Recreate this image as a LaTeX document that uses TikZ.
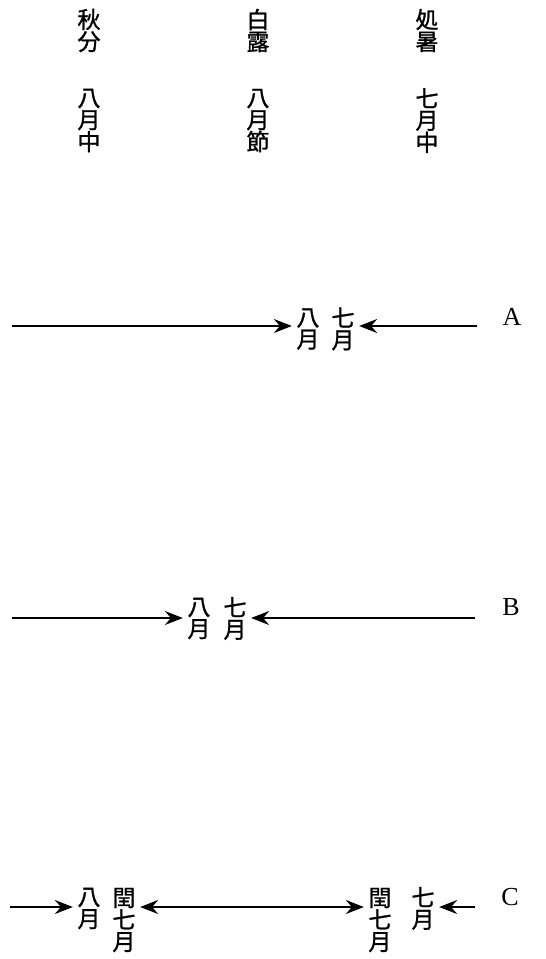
\documentclass[tikz,border=0pt]{standalone}
\usepackage{fontspec}
\setmainfont{Liberation Serif}
\newfontfamily\jpfont[FakeBold=1.2]{Noto Sans CJK JP}
\usetikzlibrary{arrows.meta}
\tikzset{
  tsuki/.style={font=\jpfont\fontsize{23}{22}\selectfont, align=center, inner sep=4pt},
  rowlabel/.style={font=\fontsize{26}{26}\selectfont, anchor=base, inner sep=0pt},
  ya/.tip={Stealth[length=18pt,width=14pt,inset=6pt]},
}
\begin{document}
\begin{tikzpicture}[x=1pt, y=1pt, line width=1.3pt]
    \useasboundingbox (0,0) rectangle (546,-959);
    % sekki headings
    \foreach \x/\n/\a/\b/\c/\d/\e in {89/shubun/秋/分/八/月/中, 258/hakuro/白/露/八/月/節, 427/shosho/処/暑/七/月/中}
        {
            \node[tsuki] (\n) at (\x,-30.5) {\a\\\b};
            \node[tsuki] (\n-m) at (\x,-120.5) {\c\\\d\\\e};
        }
    % A
    \node[tsuki] (a8) at (308,-329) {八\\月};
    \node[tsuki] (a7) at (343,-329) {七\\月};
    \coordinate (aL) at (12,-326);
    \coordinate (aR) at (477,-326);
    \draw[-ya] (aL) -- (aL -| a8.west);
    \draw[-ya] (aR) -- (aR -| a7.east);
    \node[rowlabel] (A) at (512,-325) {A};
    % B
    \node[tsuki] (b8) at (199,-618.5) {八\\月};
    \node[tsuki] (b7) at (235,-618.5) {七\\月};
    \coordinate (bL) at (12,-618);
    \coordinate (bR) at (475,-618);
    \draw[-ya] (bL) -- (bL -| b8.west);
    \draw[-ya] (bR) -- (bR -| b7.east);
    \node[rowlabel] (B) at (511,-615) {B};
    % C
    \node[tsuki] (c8) at (89,-908.5) {八\\月};
    \node[tsuki] (c9) at (124,-920) {閏\\七\\月};
    \node[tsuki] (c10) at (380,-920) {閏\\七\\月};
    \node[tsuki] (c7) at (423,-908.5) {七\\月};
    \coordinate (cL) at (10,-907);
    \coordinate (cR) at (475,-907);
    \draw[-ya] (cL) -- (cL -| c8.west);
    \draw[ya-ya] (cL -| c9.east) -- (cL -| c10.west);
    \draw[-ya] (cR) -- (cR -| c7.east);
    \node[rowlabel] (C) at (510,-905) {C};
\end{tikzpicture}
\end{document}
